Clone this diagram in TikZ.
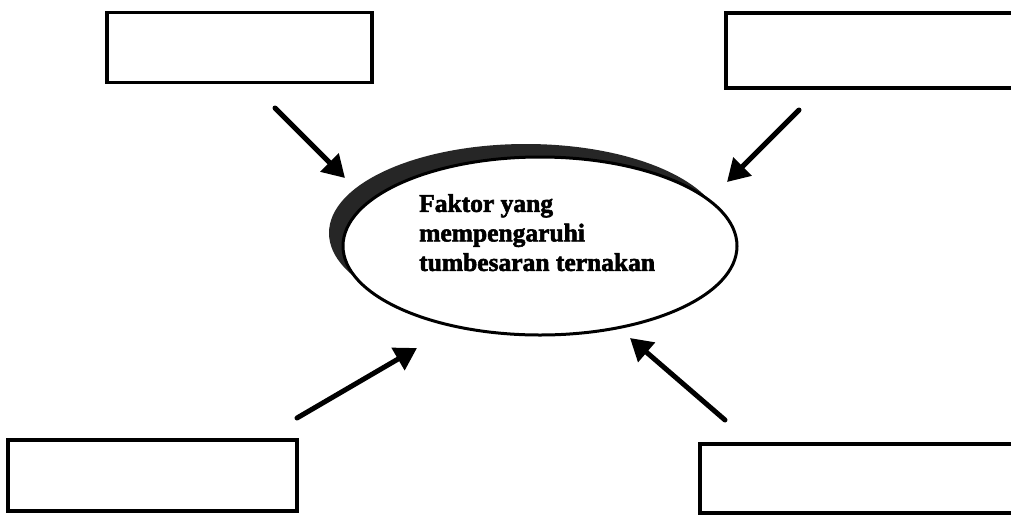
\documentclass[tikz,border=0pt]{standalone}
\usepackage{fontspec}
\setmainfont{Liberation Serif}
\newfontfamily\heavyfont{Liberation Serif Bold}[FakeBold=2.2]
\usetikzlibrary{arrows.meta,shapes.geometric}
\begin{document}
\begin{tikzpicture}[x=1pt,y=-1pt,
  box/.style={draw, line width=3.5pt, rectangle, inner sep=0pt},
  arr/.style={line width=5pt, line cap=round, -{Triangle[length=22pt,width=25pt]}},
  oval/.style={ellipse, inner sep=0pt, minimum width=394pt, minimum height=178pt}]
\useasboundingbox (0,0) rectangle (1011,515);
\clip (0,0) rectangle (1011,515);
\fill[white] (0,0) rectangle (1011,515);
% boxes
\node[box, minimum width=265pt, minimum height=70pt] (tl) at (239.5,47.5) {};
\node[box, minimum width=300pt, minimum height=75pt] (tr) at (876,50.5) {};
\node[box, minimum width=289pt, minimum height=71pt] (bl) at (152.5,475.5) {};
\node[box, minimum width=320pt, minimum height=69pt] (br) at (860,478.5) {};
% ellipse with shadow
\node[oval, fill=black!85] (sh) at (526,233) {};
\node[oval, draw, line width=3pt, fill=white] (c) at (540,246) {};
\node[anchor=north west, align=left, inner sep=0pt,
  font=\heavyfont\fontsize{25.5}{29.5}\selectfont] (txt) at (419,194)
  {Faktor yang\\mempengaruhi\\tumbesaran ternakan};
% arrows
\coordinate (a1s) at (275,108); \coordinate (a1e) at (345,178);
\coordinate (a2s) at (799,110); \coordinate (a2e) at (727,182);
\coordinate (a3s) at (297,418); \coordinate (a3e) at (417,348);
\coordinate (a4s) at (725,420); \coordinate (a4e) at (630,338);
\draw[arr] (a1s) -- (a1e);
\draw[arr] (a2s) -- (a2e);
\draw[arr] (a3s) -- (a3e);
\draw[arr] (a4s) -- (a4e);
\end{tikzpicture}
\end{document}
